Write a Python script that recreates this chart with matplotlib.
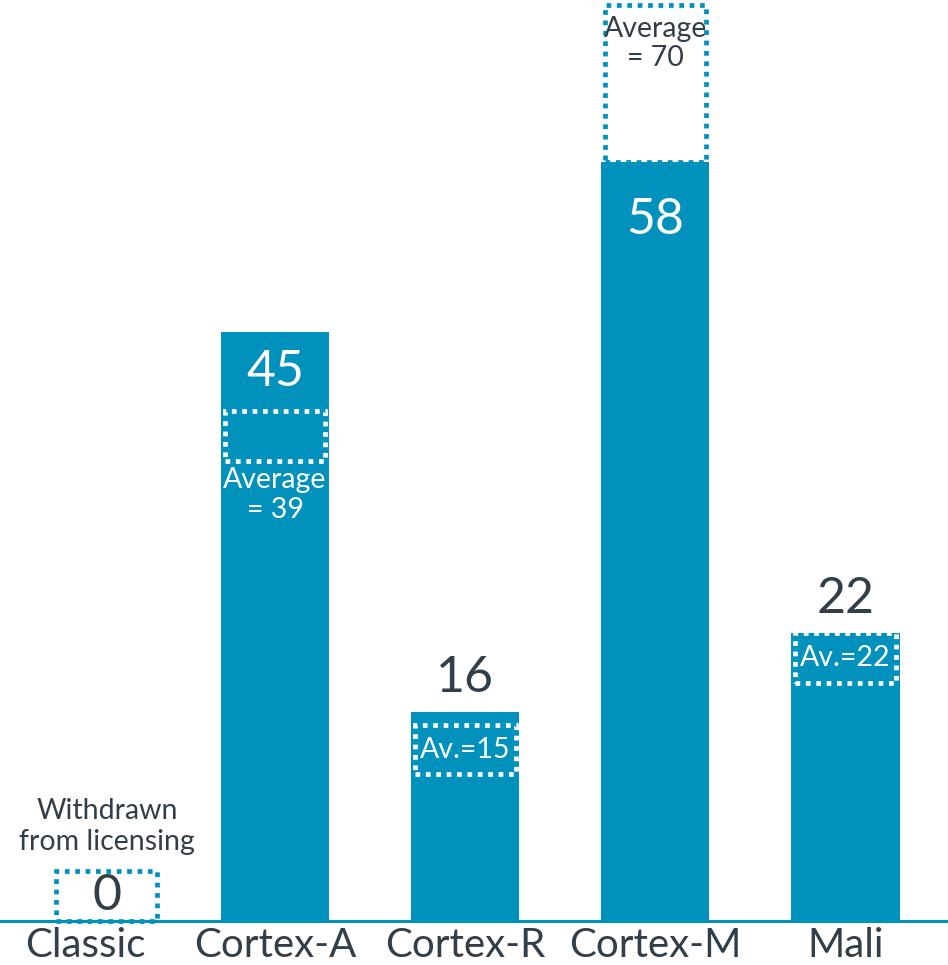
import matplotlib
matplotlib.use('Agg')
import matplotlib.pyplot as plt
from matplotlib.patches import Rectangle

categories = ['Classic', 'Cortex-A', 'Cortex-R', 'Cortex-M', 'Mali']
values = [0, 45, 16, 58, 22]
averages = [0, 39, 15, 70, 22]
avg_labels = ['', 'Average\n= 39', 'Av.=15', 'Average\n= 70', 'Av.=22']
note = 'Withdrawn\nfrom licensing'

TEAL = '#0091bd'
DARK = '#333f48'
BAR_W = 0.57
BOX_H = 3.8
DOTS = (0, (1, 1.2))
CLASSIC_SHIFT = 0.115  # the withdrawn marker sits a bit right of its tick

plt.rcParams['font.family'] = ['Lato', 'DejaVu Sans']

fig = plt.figure(figsize=(9.48, 9.65), dpi=100)
ax = fig.add_axes([0, 44 / 965, 1, 921 / 965])

x = list(range(len(categories)))
ax.bar(x, values, width=BAR_W, color=TEAL, zorder=2)

for i, (v, a) in enumerate(zip(values, averages)):
    cx = i + CLASSIC_SHIFT if v == 0 else i
    if v == 0:
        lo, hi = 0, BOX_H
    elif a > v:
        lo, hi = v, a
    else:
        lo, hi = a - BOX_H, a
    inside = a <= v and v > 0
    ec = 'white' if inside else TEAL
    ax.add_patch(Rectangle((cx - BAR_W / 2 + 0.02, lo), BAR_W - 0.04, hi - lo,
                           fill=False, ec=ec, lw=3.4, ls=DOTS,
                           zorder=3 if inside else 1, clip_on=False))

    if v == 0:
        ax.text(cx, BOX_H / 2, str(v), ha='center', va='center',
                fontsize=36, color=DARK, zorder=4)
        ax.annotate(note, (cx, BOX_H), xytext=(0, 12),
                    textcoords='offset points', ha='center', va='bottom',
                    fontsize=20.5, color=DARK, linespacing=1.2)
    elif a > v:
        # average above the bar: value inside, average label in the box top
        ax.annotate(str(v), (i, v), xytext=(0, -25), textcoords='offset points',
                    ha='center', va='top', fontsize=36, color='white', zorder=4)
        ax.annotate(avg_labels[i], (i, a), xytext=(0, -8),
                    textcoords='offset points', ha='center', va='top',
                    fontsize=20.5, color=DARK, linespacing=1.15, zorder=4)
    elif avg_labels[i].startswith('Average'):
        ax.annotate(str(v), (i, v), xytext=(0, -12), textcoords='offset points',
                    ha='center', va='top', fontsize=36, color='white', zorder=4)
        ax.annotate(avg_labels[i], (i, a - BOX_H), xytext=(0, -5),
                    textcoords='offset points', ha='center', va='top',
                    fontsize=20.5, color='white', linespacing=1.15, zorder=4)
    else:
        ax.annotate(str(v), (i, v), xytext=(0, 8), textcoords='offset points',
                    ha='center', va='bottom', fontsize=36, color=DARK, zorder=4)
        ax.text(i, a - BOX_H / 2, avg_labels[i], ha='center', va='center',
                fontsize=20.5, color='white', zorder=4)

ax.set_xlim(-0.447, 4.54)
ax.set_ylim(0, 70.4)
ax.set_xticks(x)
ax.set_xticklabels(categories, fontsize=29, color=DARK)
ax.tick_params(axis='x', length=0, pad=4)
ax.set_yticks([])
for s in ['top', 'right', 'left']:
    ax.spines[s].set_visible(False)
ax.spines['bottom'].set_color(TEAL)
ax.spines['bottom'].set_linewidth(2.2)
ax.spines['bottom'].set_zorder(5)

fig.savefig('out.png', dpi=100)
